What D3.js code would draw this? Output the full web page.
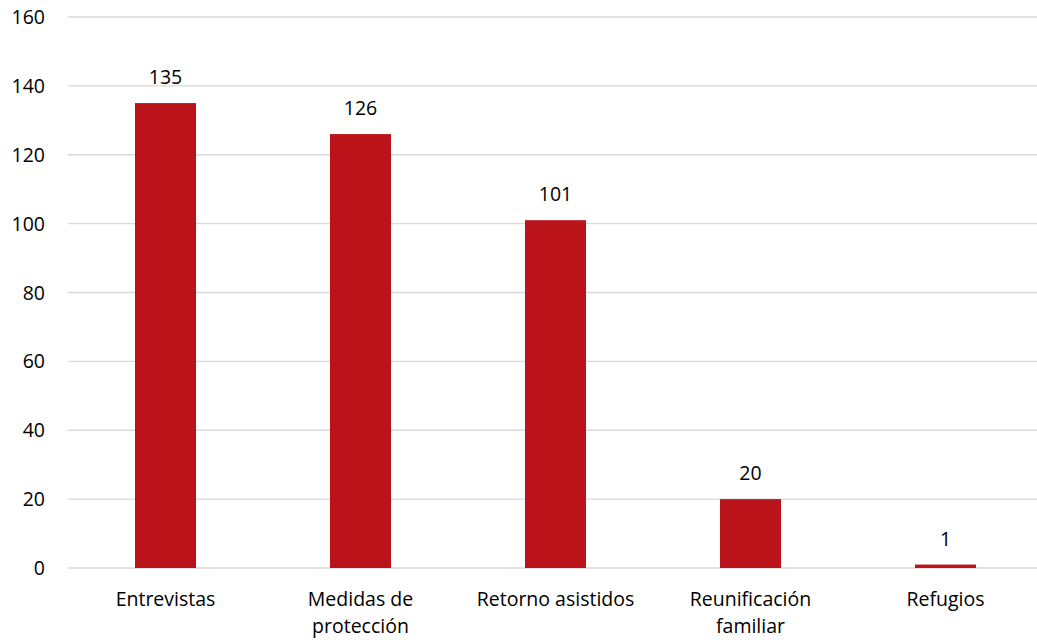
<!DOCTYPE html>
<html>
<head>
<meta charset="utf-8">
<script src="https://cdn.jsdelivr.net/npm/d3@7"></script>
<style>
  body { margin: 0; background: #fff; }
  text { font-family: "Open Sans", "Liberation Sans", sans-serif; fill: #000; }
</style>
</head>
<body>
<div id="chart"></div>
<script>
const categories = [["Entrevistas"], ["Medidas de", "protección"], ["Retorno asistidos"], ["Reunificación", "familiar"], ["Refugios"]];
const values = [135, 126, 101, 20, 1];
const yTicks = [0, 20, 40, 60, 80, 100, 120, 140, 160];

const width = 1037, height = 643;
const margin = { top: 17, right: -6, bottom: 75, left: 68 };

const svg = d3.select('#chart').append('svg')
  .attr('width', width)
  .attr('height', height);

const x = d3.scaleBand()
  .domain(d3.range(categories.length))
  .range([margin.left, width - margin.right])
  .padding(0);

const y = d3.scaleLinear()
  .domain([0, 160])
  .range([height - margin.bottom, margin.top]);

// gridlines
svg.append('g')
  .selectAll('line')
  .data(yTicks)
  .join('line')
    .attr('x1', margin.left)
    .attr('x2', width)
    .attr('y1', d => y(d))
    .attr('y2', d => y(d))
    .attr('stroke', '#d9d9d9')
    .attr('stroke-width', 1.3);

// y labels
svg.append('g')
  .selectAll('text')
  .data(yTicks)
  .join('text')
    .attr('x', 45)
    .attr('y', d => y(d))
    .attr('dy', '0.36em')
    .attr('text-anchor', 'end')
    .style('font-size', '19.5px')
    .text(d => d);

const barW = x.bandwidth() * 0.313;

// bars
svg.append('g')
  .selectAll('rect')
  .data(values)
  .join('rect')
    .attr('x', (d, i) => x(i) + x.bandwidth() / 2 - barW / 2)
    .attr('y', d => y(d))
    .attr('width', barW)
    .attr('height', d => y(0) - y(d))
    .attr('fill', '#ba141a');

// value labels
svg.append('g')
  .selectAll('text')
  .data(values)
  .join('text')
    .attr('x', (d, i) => x(i) + x.bandwidth() / 2)
    .attr('y', d => y(d) - 19)
    .attr('text-anchor', 'middle')
    .style('font-size', '19.5px')
    .text(d => d);

// category labels
svg.append('g')
  .selectAll('text')
  .data(categories)
  .join('text')
    .attr('x', (d, i) => x(i) + x.bandwidth() / 2)
    .attr('y', 606)
    .attr('text-anchor', 'middle')
    .style('font-size', '19.5px')
    .selectAll('tspan')
    .data(d => d)
    .join('tspan')
      .attr('x', function () { return this.parentNode.getAttribute('x'); })
      .attr('dy', (d, i) => i === 0 ? 0 : 27)
      .text(d => d);
</script>
</body>
</html>
